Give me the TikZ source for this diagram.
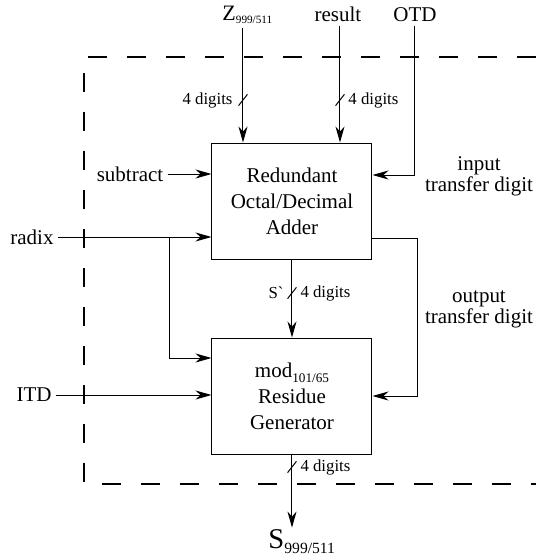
\documentclass[tikz,border=0pt]{standalone}
\usepackage{fontspec}
\setmainfont{Liberation Serif}[Ligatures=TeXOff]
\usetikzlibrary{arrows.meta}
\tikzset{>={Stealth[length=8pt,width=4.5pt,inset=2.5pt]}}
\newcommand{\busmark}[1]{\draw ([shift={(-2.2pt,-2.8pt)}]#1) -- ([shift={(2.2pt,2.8pt)}]#1);}

\begin{document}
\begin{tikzpicture}[x=0.5pt,y=-0.5pt,line width=0.5pt,
    block/.style={draw,minimum width=80pt,minimum height=58pt,align=center,
      font=\fontsize{10.5}{13}\selectfont},
    lbl/.style={font=\fontsize{10.5}{9.5}\selectfont,inner sep=2pt,align=center},
    small/.style={font=\fontsize{8.4}{9}\selectfont,inner sep=1pt}]
  \useasboundingbox (0,0) rectangle (536,559);

  % dashed chip boundary
  \draw[line width=0.7pt,dash pattern=on 9.5pt off 10pt]
    (536,57) -- (84,57) -- (84,484) -- (536,484);

  % the two blocks
  \node[block] (adder) at (292,201) {Redundant\\Octal/Decimal\\Adder};
  \node[block] (resgen) at (292,396)
    {mod{\fontsize{6.6}{7}\selectfont\raisebox{-2.5pt}{101/65}}\\Residue\\Generator};

  % inputs at the top
  \node[anchor=base west,inner sep=0pt,font=\fontsize{11}{12}\selectfont] (zlbl) at (222,20)
    {Z{\fontsize{5.6}{6}\selectfont\raisebox{-1.5pt}{999/511}}};
  \node[lbl,anchor=base] (reslbl) at (338,21) {result};
  \node[lbl,anchor=base] (otd) at (415,21) {OTD};
  \coordinate (zin) at (243,28);
  \coordinate (zbus) at (243,100);
  \coordinate (rbus) at (340,100);
  \draw[->] (zin) -- (zin |- adder.north);
  \draw[->] (reslbl.south -| rbus) -- (rbus |- adder.north);
  \draw[->] (otd.south) |- ([yshift=13pt]adder.east);
  \busmark{zbus}
  \busmark{rbus}
  \node[small,anchor=east] at ([xshift=-4pt]zbus) {4 digits};
  \node[small,anchor=west] at ([xshift=3pt]rbus) {4 digits};

  % inputs on the left
  \node[lbl] (sub) at (130,174) {subtract};
  \node[lbl] (radix) at (32,237) {radix};
  \node[lbl] (itd) at (34,395) {ITD};
  \coordinate (split) at (170,237);
  \draw[->] (sub.east) -- (sub.east -| adder.west);
  \draw[->] (radix.east) -- (radix.east -| adder.west);
  \draw[->] (split) |- ([yshift=19pt]resgen.west);
  \draw[->] (itd.east) -- (itd.east -| resgen.west);

  % adder to residue generator
  \coordinate (sbus) at (292,293);
  \draw[->] (adder) -- (resgen);
  \busmark{sbus}
  \node[small,anchor=east] at ([xshift=-3pt]sbus) {S`};
  \node[small,anchor=west] at ([xshift=3pt]sbus) {4 digits};

  % transfer digits
  \draw[->] ([yshift=-18.5pt]adder.east) -| ([xshift=22.5pt]resgen.east) -- (resgen.east);
  \node[lbl] at (479,176) {input\\transfer digit};
  \node[lbl] at (479,309) {output\\transfer digit};

  % output
  \node[anchor=base west,inner sep=0.5pt,font=\fontsize{14.3}{15}\selectfont] (sout) at (267,548)
    {S{\fontsize{7.8}{8}\selectfont\raisebox{-2.5pt}{999/511}}};
  \coordinate (obus) at (292,467);
  \draw[->] (resgen) -- (resgen.south |- sout.north);
  \busmark{obus}
  \node[small,anchor=west] at ([xshift=3pt]obus) {4 digits};
\end{tikzpicture}
\end{document}
